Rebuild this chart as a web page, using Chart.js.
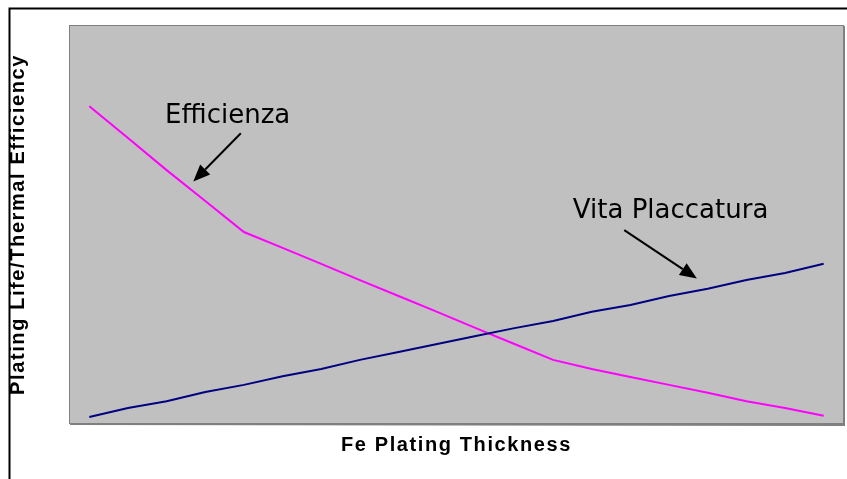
<!DOCTYPE html>
<html>
<head>
<meta charset="utf-8">
<script src="https://cdn.jsdelivr.net/npm/chart.js@4/dist/chart.umd.min.js"></script>
<style>
  html, body { margin: 0; padding: 0; background: #ffffff; }
  #wrap { width: 847px; height: 479px; }
</style>
</head>
<body>
<div id="wrap"><canvas id="c" width="847" height="479"></canvas></div>
<script>
// Plating thickness steps (no tick labels are shown on the axis)
const thicknessSteps = ['1','2','3','4','5','6','7','8','9','10','11','12','13','14','15','16','17','18','19','20'];

// Relative plating life (rises with thickness)
const platingLife = [1.5, 3.8, 5.5, 7.8, 9.6, 11.8, 13.6, 15.9, 17.9, 19.9,
                     21.9, 23.9, 25.7, 28.0, 29.7, 32.0, 33.8, 36.0, 37.8, 40.1];

// Relative thermal efficiency (falls with thickness)
const thermalEfficiency = [79.8, 71.8, 63.7, 55.9, 48.1, 44.1, 40.1, 36.0, 32.0, 28.0,
                           23.9, 19.9, 15.9, 13.6, 11.6, 9.6, 7.6, 5.5, 3.8, 1.8];

const seriesNames = ['Vita Placcatura', 'Efficienza'];

// Callout labels with arrows, anchored in data units (category index, value)
const callouts = [
  { text: 'Efficienza',      textAt: [1.96, 75.6],  from: [3.92, 73.0],  to: [2.69, 60.8] },
  { text: 'Vita Placcatura', textAt: [12.51, 51.6], from: [13.84, 48.6], to: [15.72, 36.4] }
];

const framePlugin = {
  id: 'frame',
  beforeDraw(chart) {
    const ctx = chart.ctx;
    const { left, top, right, bottom } = chart.chartArea;
    ctx.save();
    ctx.fillStyle = '#ffffff';
    ctx.fillRect(0, 0, chart.width, chart.height);
    // outer frame (top and left edges visible)
    ctx.strokeStyle = '#000000';
    ctx.lineWidth = 2;
    ctx.beginPath();
    ctx.moveTo(9.5, chart.height + 2);
    ctx.lineTo(9.5, 8.5);
    ctx.lineTo(chart.width + 2, 8.5);
    ctx.stroke();
    // plot background
    ctx.fillStyle = '#c0c0c0';
    ctx.fillRect(left, top, right - left, bottom - top);
    ctx.restore();
    // axis titles are set with a little tracking
    ctx.letterSpacing = '1.6px';
  },
  afterDraw(chart) {
    const ctx = chart.ctx;
    const { left, top, right, bottom } = chart.chartArea;
    const xs = chart.scales.x, ys = chart.scales.y;
    ctx.letterSpacing = '0px';
    ctx.save();
    // plot border
    ctx.strokeStyle = '#808080';
    ctx.lineWidth = 1;
    ctx.strokeRect(left - 0.5, top - 0.5, right - left + 1, bottom - top + 1);
    ctx.lineWidth = 2;
    ctx.beginPath();
    ctx.moveTo(right + 1, top);
    ctx.lineTo(right + 1, bottom + 2);
    ctx.lineTo(left, bottom + 1);
    ctx.stroke();

    // callouts
    ctx.fillStyle = '#000000';
    ctx.strokeStyle = '#000000';
    ctx.font = '26px "DejaVu Sans"';
    ctx.textAlign = 'left';
    ctx.textBaseline = 'alphabetic';
    callouts.forEach(c => {
      const tx = xs.getPixelForValue(c.textAt[0]);
      const ty = ys.getPixelForValue(c.textAt[1]);
      ctx.fillText(c.text, tx, ty);
      const x1 = xs.getPixelForValue(c.from[0]), y1 = ys.getPixelForValue(c.from[1]);
      const x2 = xs.getPixelForValue(c.to[0]),   y2 = ys.getPixelForValue(c.to[1]);
      const ang = Math.atan2(y2 - y1, x2 - x1);
      const headLen = 17, headHalf = 7;
      const bx = x2 - headLen * Math.cos(ang), by = y2 - headLen * Math.sin(ang);
      ctx.lineWidth = 2;
      ctx.beginPath();
      ctx.moveTo(x1, y1);
      ctx.lineTo(bx, by);
      ctx.stroke();
      ctx.beginPath();
      ctx.moveTo(x2, y2);
      ctx.lineTo(bx + headHalf * Math.sin(ang), by - headHalf * Math.cos(ang));
      ctx.lineTo(bx - headHalf * Math.sin(ang), by + headHalf * Math.cos(ang));
      ctx.closePath();
      ctx.fill();
    });
    ctx.restore();
  }
};

const titleFont = { family: '"Liberation Sans", Arial, sans-serif', size: 20, weight: 'bold' };

new Chart(document.getElementById('c'), {
  type: 'line',
  data: {
    labels: thicknessSteps,
    datasets: [
      { label: seriesNames[0], data: platingLife, borderColor: '#000080', borderWidth: 2,
        pointRadius: 0, tension: 0, fill: false },
      { label: seriesNames[1], data: thermalEfficiency, borderColor: '#ff00ff', borderWidth: 2,
        pointRadius: 0, tension: 0, fill: false }
    ]
  },
  options: {
    responsive: false,
    devicePixelRatio: 1,
    animation: false,
    layout: { padding: { left: 0, top: 26, right: 4, bottom: 0 } },
    plugins: { legend: { display: false }, tooltip: { enabled: false } },
    scales: {
      x: {
        type: 'category',
        offset: true,
        ticks: { display: false },
        grid: { display: false, drawTicks: false },
        border: { display: false },
        title: { display: true, text: 'Fe Plating Thickness', color: '#000000',
                 font: titleFont, padding: { top: 10, bottom: 22 } }
      },
      y: {
        min: 0,
        max: 100,
        ticks: { display: false },
        grid: { display: false, drawTicks: false },
        border: { display: false },
        title: { display: true, text: 'Plating Life/Thermal Efficiency', color: '#000000',
                 font: titleFont, padding: { top: 6, bottom: 40 } }
      }
    }
  },
  plugins: [framePlugin]
});
</script>
</body>
</html>
